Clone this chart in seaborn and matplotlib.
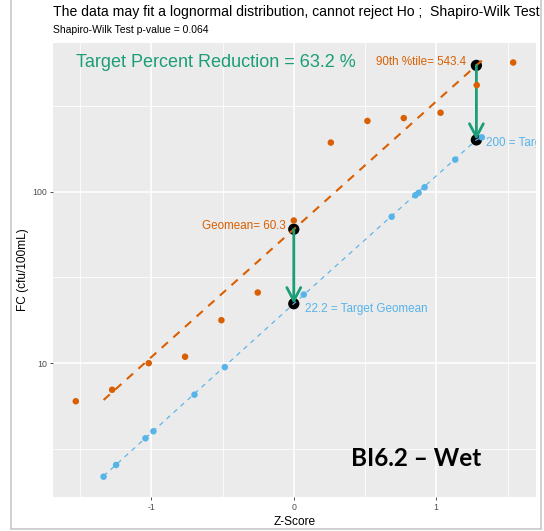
import numpy as np
import pandas as pd
import seaborn as sns
import matplotlib
matplotlib.use("Agg")
import matplotlib.pyplot as plt
from matplotlib.lines import Line2D
from matplotlib.ticker import FixedLocator, NullFormatter
from matplotlib.transforms import Bbox, TransformedBbox

# Observed fecal coliform samples (normal score vs. concentration)
obs_z = [-1.53, -1.275, -1.018, -0.763, -0.508, -0.253, 0.0, 0.26, 0.517, 0.772, 1.03, 1.284, 1.54]
obs_fc = [6.0, 7.0, 10.0, 10.9, 17.8, 25.8, 67.8, 193, 258, 268, 288, 417, 565]

# Target distribution after the required reduction
target_z = [-1.335, -1.247, -1.041, -0.985, -0.697, -0.484, 0.07, 0.687, 0.853, 0.876, 0.918, 1.133, 1.32]
target_fc = [2.18, 2.55, 3.65, 4.01, 6.55, 9.48, 25.1, 71.3, 95.1, 98.3, 105.9, 153.5, 207]

# Lognormal fit lines
fit_obs_z = [-1.335, 0.0, 1.2816, 1.32]
fit_obs_fc = [6.1, 60.3, 543.4, 580]
fit_target_z = [-1.335, 0.0, 1.2816, 1.32]
fit_target_fc = [2.2, 22.2, 200, 207]

# Summary statistics
z90 = 1.2816
geomean = 60.3
p90 = 543.4
target_geomean = 22.2
target_p90 = 200
reduction_pct = 63.2
sw_pvalue = 0.064

ORANGE = "#D95F02"
BLUE = "#56B4E9"
GREEN = "#1B9E77"

sns.set_theme(style="darkgrid")
plt.rcParams["font.family"] = ["Liberation Sans", "DejaVu Sans"]

W, H = 544, 531
fig = plt.figure(figsize=(W / 100, H / 100), dpi=100)
ax = fig.add_axes([53 / W, 1 - 497 / H, (536 - 53) / W, (497 - 43) / H])
ax.set_facecolor("#EBEBEB")
ax.set_yscale("log")

# key points (geomean and 90th percentile, before and after)
key = pd.DataFrame({"z": [0.0, 0.0, z90, z90],
                    "fc": [geomean, target_geomean, p90, target_p90]})
sns.scatterplot(data=key, x="z", y="fc", color="black", s=66,
                edgecolor="none", ax=ax, zorder=2)

sns.lineplot(x=fit_obs_z, y=fit_obs_fc, color=ORANGE, linewidth=1.5,
             linestyle=(0, (4, 3.5)), ax=ax, zorder=3)
sns.lineplot(x=fit_target_z, y=fit_target_fc, color=BLUE, linewidth=0.85,
             linestyle=(0, (4, 4)), ax=ax, zorder=3)

for z, top, bot in [(0.0, geomean, target_geomean), (z90, p90, target_p90)]:
    ax.annotate("", xy=(z, bot), xytext=(z, top),
                arrowprops=dict(arrowstyle="->,head_length=0.95,head_width=0.5",
                                color=GREEN, lw=2.0, shrinkA=0, shrinkB=0,
                                mutation_scale=10),
                zorder=4)

sns.scatterplot(x=obs_z, y=obs_fc, color=ORANGE, s=22, edgecolor="none",
                ax=ax, zorder=5)
sns.scatterplot(x=target_z, y=target_fc, color=BLUE, s=22, edgecolor="none",
                ax=ax, zorder=5)

ax.set_xlim(-1.69, 1.70)
ax.set_ylim(1.66, 734)

ax.xaxis.set_major_locator(FixedLocator([-1, 0, 1]))
ax.xaxis.set_minor_locator(FixedLocator([-1.5, -0.5, 0.5, 1.5]))
ax.yaxis.set_major_locator(FixedLocator([10, 100]))
ax.yaxis.set_minor_locator(FixedLocator([10 ** 0.5, 10 ** 1.5, 10 ** 2.5]))
ax.yaxis.set_minor_formatter(NullFormatter())
ax.set_yticklabels(["10", "100"])
ax.set_xticklabels(["-1", "0", "1"])
ax.grid(which="major", color="white", linewidth=1.1)
ax.grid(which="minor", color="white", linewidth=0.55)
ax.tick_params(which="major", length=2.5, width=0.6, color="#333333",
               labelsize=6.3, labelcolor="#4D4D4D", pad=2, bottom=True, left=True)
ax.tick_params(which="minor", length=0)
for s in ax.spines.values():
    s.set_visible(False)

ax.set_xlabel("Z-Score", fontsize=8.6, color="black", labelpad=3)
ax.set_ylabel("FC (cfu/100mL)", fontsize=8.6, color="black", labelpad=2)

# labels on the key points
def label(txt, xy, off, color, ha, va="center"):
    t = ax.annotate(txt, xy=xy, xytext=off, textcoords="offset points",
                    color=color, fontsize=8.4, ha=ha, va=va, zorder=6)
    t.set_clip_on(True)
    t.set_clip_box(ax.bbox)
    return t

label(f"90th %tile= {p90}", (z90, p90), (-7.2, 2.2), ORANGE, "right")
label(f"Geomean= {geomean}", (0.0, geomean), (-5.8, 2.2), ORANGE, "right")
label(f"{target_p90} = Target 90th %tile", (z90, target_p90), (7.2, -2.5), BLUE, "left")
label(f"{target_geomean} = Target Geomean", (0.0, target_geomean), (8.0, -3.6), BLUE, "left")

ax.text(0.3364, 0.956, f"Target Percent Reduction = {reduction_pct} %",
        transform=ax.transAxes, color=GREEN, fontsize=13,
        ha="center", va="center", zorder=6)
ax.text(0.752, 0.0857, "BI6.2 \u2013 Wet", transform=ax.transAxes,
        fontsize=17.5, fontweight="bold", family=["Lato", "DejaVu Sans"],
        color="black", ha="center", va="center", zorder=6)

clip = TransformedBbox(Bbox([[0, 0], [541 / W, 1]]), fig.transFigure)
t1 = fig.text(53 / W, 1 - 12 / H,
              "The data may fit a lognormal distribution, cannot reject Ho ;  "
              f"Shapiro-Wilk Test p-value = {sw_pvalue}",
              fontsize=10.1, ha="left", va="center", color="black")
t1.set_clip_box(clip)
t1.set_clip_on(True)
fig.text(53 / W, 1 - 30 / H, f"Shapiro-Wilk Test p-value = {sw_pvalue}",
         fontsize=7.5, ha="left", va="center", color="black")

# frame around the figure
fc = "#C8C8C8"
fig.add_artist(Line2D([11 / W, 11 / W], [1 - 529 / H, 1], transform=fig.transFigure, color=fc, lw=1.2))
fig.add_artist(Line2D([541 / W, 541 / W], [1 - 529 / H, 1], transform=fig.transFigure, color=fc, lw=1.2))
fig.add_artist(Line2D([11 / W, 541 / W], [1 - 529 / H, 1 - 529 / H], transform=fig.transFigure, color=fc, lw=1.2))

fig.savefig("out.png", dpi=100)
